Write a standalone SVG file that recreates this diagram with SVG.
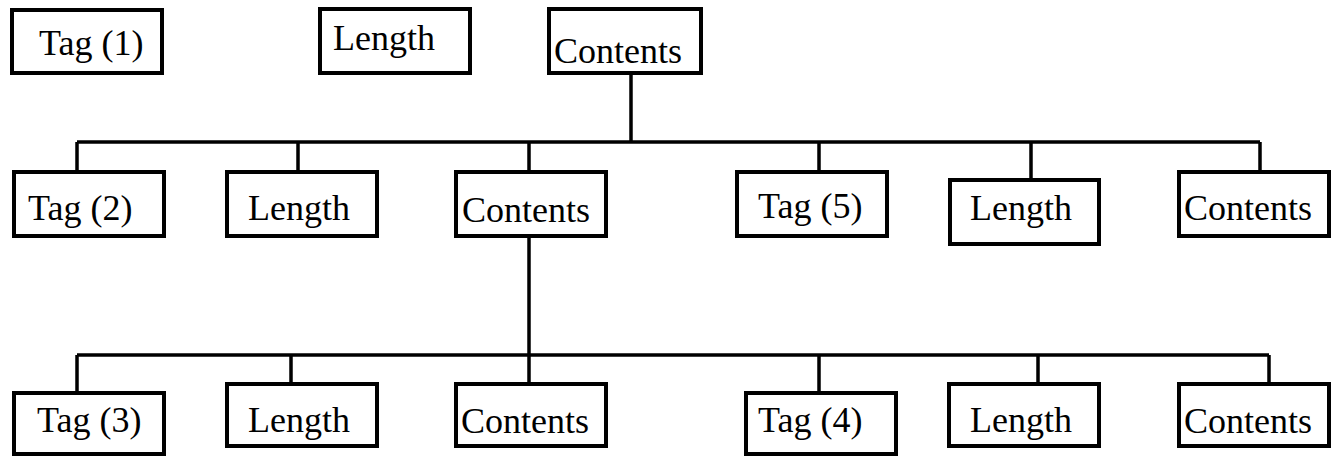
<svg xmlns="http://www.w3.org/2000/svg" width="1340" height="457" viewBox="0 0 1340 457">
<style>
.box{fill:#fff;stroke:#000;stroke-width:4}
.lbl{font-family:"Liberation Serif","Times New Roman",serif;font-size:36px;fill:#000}
.ln{fill:none;stroke:#000;stroke-width:3.5}
</style>
<rect width="1340" height="457" fill="#fff"/>
<g id="connectors" class="ln">
<path d="M631,75 V142"/>
<path d="M77,142 H1260"/>
<path d="M77,142 V172 M298,142 V172 M529,142 V172 M819,142 V172 M1031,142 V180 M1260,142 V172"/>
<path d="M529,238 V355"/>
<path d="M77,355 H1269"/>
<path d="M77,355 V393 M291,355 V384 M529,355 V384 M819,355 V393 M1038,355 V384 M1269,355 V384"/>
</g>
<g id="tag1"><rect class="box" x="12" y="10" width="150" height="63"/><text class="lbl" x="39" y="55">Tag (1)</text></g>
<g id="length1"><rect class="box" x="320" y="9" width="150" height="64"/><text class="lbl" x="333" y="50">Length</text></g>
<g id="contents1"><rect class="box" x="549" y="9" width="152" height="64"/><text class="lbl" x="554" y="63">Contents</text></g>

<g id="tag2"><rect class="box" x="14" y="172" width="150" height="64"/><text class="lbl" x="28" y="220">Tag (2)</text></g>
<g id="length2"><rect class="box" x="227" y="172" width="150" height="64"/><text class="lbl" x="248" y="220">Length</text></g>
<g id="contents2"><rect class="box" x="456" y="172" width="150" height="64"/><text class="lbl" x="462" y="222">Contents</text></g>
<g id="tag5"><rect class="box" x="737" y="172" width="150" height="64"/><text class="lbl" x="758" y="218">Tag (5)</text></g>
<g id="length5"><rect class="box" x="950" y="180" width="149" height="64"/><text class="lbl" x="970" y="220">Length</text></g>
<g id="contents5"><rect class="box" x="1179" y="172" width="150" height="64"/><text class="lbl" x="1184" y="220">Contents</text></g>

<g id="tag3"><rect class="box" x="14" y="393" width="150" height="61"/><text class="lbl" x="37" y="432">Tag (3)</text></g>
<g id="length3"><rect class="box" x="227" y="384" width="150" height="62"/><text class="lbl" x="248" y="432">Length</text></g>
<g id="contents3"><rect class="box" x="456" y="384" width="150" height="62"/><text class="lbl" x="461" y="433">Contents</text></g>
<g id="tag4"><rect class="box" x="746" y="393" width="150" height="61"/><text class="lbl" x="758" y="432">Tag (4)</text></g>
<g id="length4"><rect class="box" x="949" y="384" width="150" height="62"/><text class="lbl" x="970" y="432">Length</text></g>
<g id="contents4"><rect class="box" x="1179" y="384" width="150" height="62"/><text class="lbl" x="1184" y="433">Contents</text></g>
</svg>
